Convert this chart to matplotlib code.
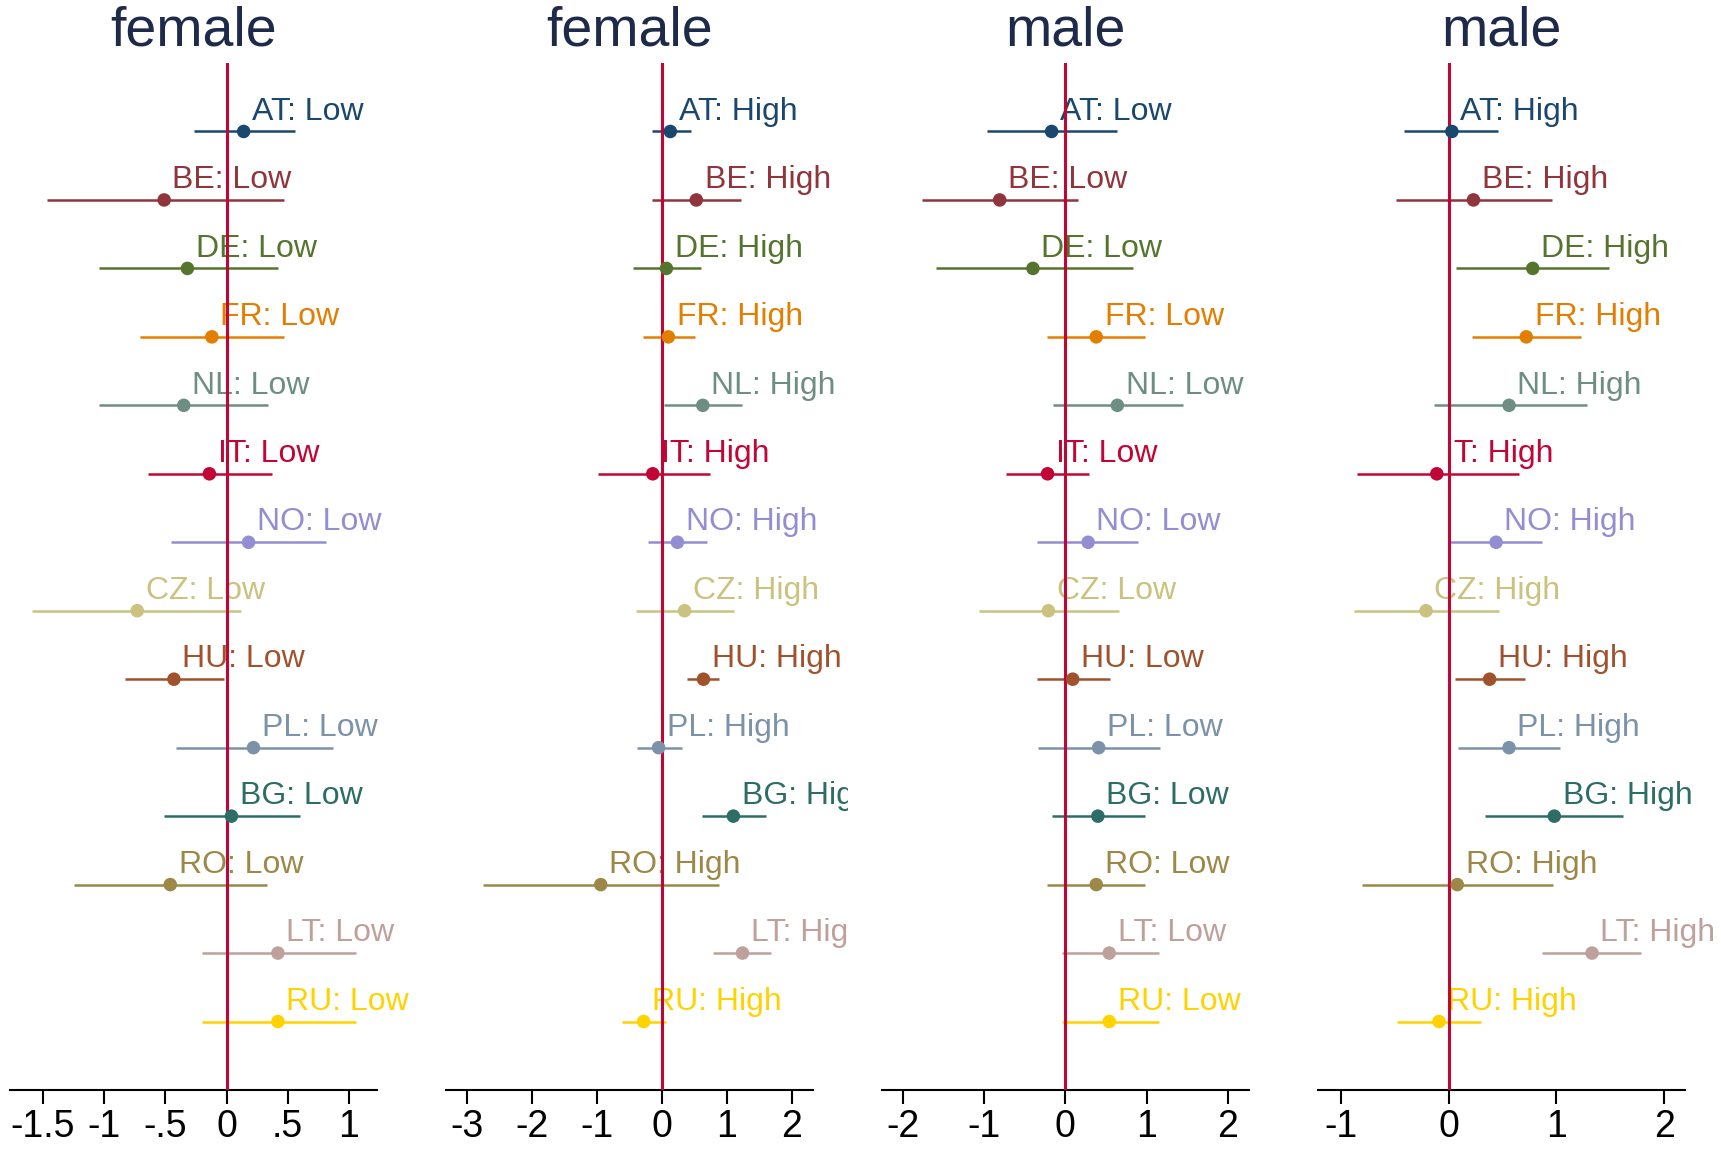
import numpy as np
import matplotlib
matplotlib.use('Agg')
import matplotlib.pyplot as plt

plt.rcParams['font.family'] = ['Liberation Sans', 'DejaVu Sans']

# Datos: estimaciones puntuales e intervalos de confianza por país
countries = ['AT', 'BE', 'DE', 'FR', 'NL', 'IT', 'NO', 'CZ', 'HU', 'PL', 'BG', 'RO', 'LT', 'RU']
colors = ['#1a476f', '#90353b', '#55752f', '#e37e00', '#6e8e84', '#c10534', '#938dd2',
          '#cac27e', '#a0522d', '#7b92a8', '#2d6d66', '#9c8847', '#bfa19c', '#ffd200']

titles = ['female', 'female', 'male', 'male']
levels = ['Low', 'High', 'Low', 'High']

# female, Low
est_fl = [0.14, -0.51, -0.32, -0.12, -0.35, -0.14, 0.18, -0.73, -0.43, 0.22, 0.04, -0.46, 0.42, 0.42]
lo_fl = [-0.27, -1.47, -1.04, -0.71, -1.04, -0.64, -0.45, -1.59, -0.83, -0.41, -0.51, -1.25, -0.20, -0.20]
hi_fl = [0.56, 0.47, 0.42, 0.47, 0.34, 0.37, 0.81, 0.12, -0.02, 0.87, 0.60, 0.33, 1.06, 1.06]

# female, High
est_fh = [0.13, 0.53, 0.07, 0.10, 0.63, -0.14, 0.24, 0.35, 0.64, -0.05, 1.10, -0.94, 1.24, -0.28]
lo_fh = [-0.15, -0.15, -0.44, -0.29, 0.03, -0.98, -0.21, -0.39, 0.39, -0.38, 0.61, -2.75, 0.79, -0.61]
hi_fh = [0.45, 1.22, 0.60, 0.51, 1.24, 0.74, 0.70, 1.11, 0.88, 0.31, 1.60, 0.88, 1.68, 0.07]

# male, Low
est_ml = [-0.17, -0.81, -0.40, 0.38, 0.64, -0.22, 0.28, -0.21, 0.09, 0.41, 0.40, 0.38, 0.54, 0.54]
lo_ml = [-0.97, -1.77, -1.60, -0.23, -0.15, -0.73, -0.35, -1.07, -0.35, -0.34, -0.17, -0.23, -0.04, -0.04]
hi_ml = [0.63, 0.16, 0.83, 0.98, 1.45, 0.29, 0.90, 0.66, 0.55, 1.17, 0.98, 0.98, 1.15, 1.15]

# male, High
est_mh = [0.03, 0.23, 0.78, 0.72, 0.56, -0.11, 0.44, -0.21, 0.38, 0.56, 0.98, 0.08, 1.33, -0.09]
lo_mh = [-0.41, -0.49, 0.07, 0.22, -0.14, -0.85, 0.00, -0.88, 0.06, 0.09, 0.34, -0.80, 0.87, -0.48]
hi_mh = [0.46, 0.96, 1.49, 1.23, 1.28, 0.65, 0.87, 0.47, 0.71, 1.03, 1.62, 0.97, 1.78, 0.30]

estimates = [est_fl, est_fh, est_ml, est_mh]
lowers = [lo_fl, lo_fh, lo_ml, lo_mh]
uppers = [hi_fl, hi_fh, hi_ml, hi_mh]

ticks = [[-1.5, -1, -0.5, 0, 0.5, 1], [-3, -2, -1, 0, 1, 2], [-2, -1, 0, 1, 2], [-1, 0, 1, 2]]
tick_labels = [['-1.5', '-1', '-.5', '0', '.5', '1'], ['-3', '-2', '-1', '0', '1', '2'],
               ['-2', '-1', '0', '1', '2'], ['-1', '0', '1', '2']]

# Rango del eje x dibujado y límites del área (la parte derecha deja sitio a las etiquetas)
axis_range = [(-1.770, 1.233), (-3.320, 2.324), (-2.260, 2.260), (-1.212, 2.196)]
xlims = [(-1.770, 1.565), (-3.320, 2.863), (-2.260, 2.632), (-1.212, 2.517)]

# Posición de cada panel en píxeles (izquierda, derecha)
W, H = 1721, 1153
panel_px = [(10, 418), (446, 848), (882, 1279), (1318, 1720)]
top_px, bottom_px = 63, 1090

fig = plt.figure(figsize=(W / 100, H / 100), dpi=100)

y = np.arange(1, len(countries) + 1)
for i in range(4):
    left, right = panel_px[i]
    ax = fig.add_axes([left / W, 1 - bottom_px / H, (right - left) / W, (bottom_px - top_px) / H])
    ax.set_xlim(*xlims[i])
    ax.set_ylim(len(countries) + 1, 0)

    ax.hlines(y, lowers[i], uppers[i], colors=colors, lw=1.8, zorder=2)
    for j, c in enumerate(countries):
        ax.annotate(f'{c}: {levels[i]}', (estimates[i][j], y[j]), xytext=(6, 8.5),
                    textcoords='offset points', color=colors[j], fontsize=23,
                    ha='left', va='baseline', clip_on=True, zorder=2.5)
    ax.axvline(0, color='#c10534', lw=2.2, zorder=3)
    ax.scatter(estimates[i], y, c=colors, s=95, zorder=4, linewidths=0)

    for s in ['top', 'right', 'left']:
        ax.spines[s].set_visible(False)
    ax.spines['bottom'].set_bounds(*axis_range[i])
    ax.spines['bottom'].set_linewidth(1.5)
    ax.set_yticks([])
    ax.set_xticks(ticks[i])
    ax.set_xticklabels(tick_labels[i])
    ax.tick_params(axis='x', length=10, width=1.5, labelsize=27, pad=4)

    # título centrado sobre el eje dibujado
    x_mid = left + ((axis_range[i][0] + axis_range[i][1]) / 2 - xlims[i][0]) / (xlims[i][1] - xlims[i][0]) * (right - left)
    fig.text(x_mid / W, 1 - 46 / H, titles[i], ha='center', va='baseline', fontsize=40, color='#1e2a4a')

fig.savefig('out.png', dpi=100, facecolor='white')
